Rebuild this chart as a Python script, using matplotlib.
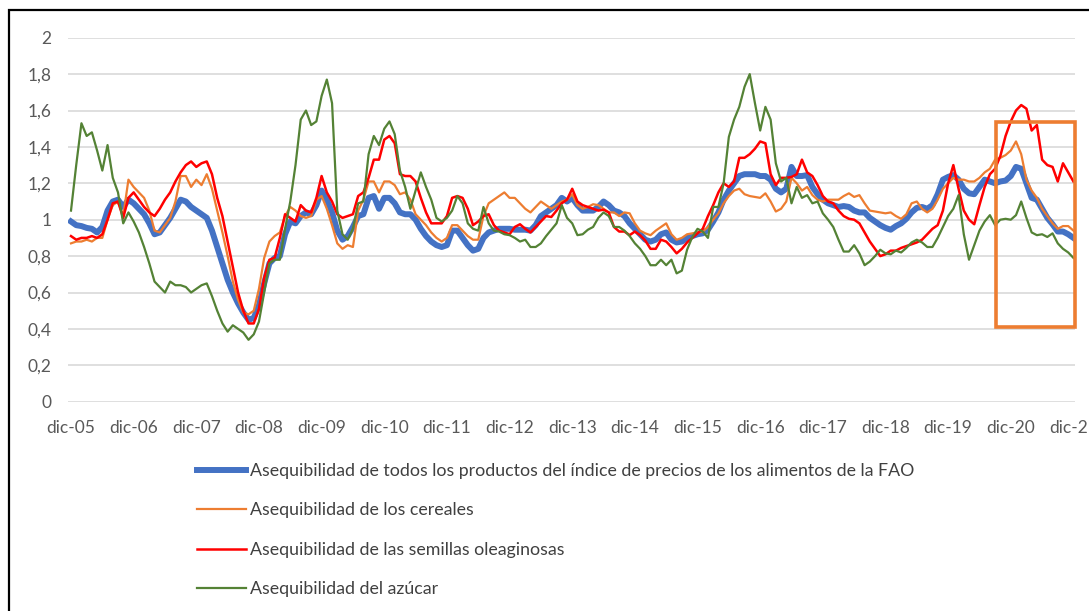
import matplotlib
matplotlib.use("Agg")
import matplotlib.pyplot as plt
from matplotlib.patches import Rectangle
import numpy as np

# ---------------- data (monthly, dic-05 .. dic-21) ----------------
tick_labels = ["dic-05", "dic-06", "dic-07", "dic-08", "dic-09", "dic-10", "dic-11",
               "dic-12", "dic-13", "dic-14", "dic-15", "dic-16", "dic-17", "dic-18",
               "dic-19", "dic-20", "dic-21"]

series_names = [
    "Asequibilidad de todos los productos del índice de precios de los alimentos de la FAO",
    "Asequibilidad de los cereales",
    "Asequibilidad de las semillas oleaginosas",
    "Asequibilidad del azúcar",
]

todos = [
    0.99, 0.97, 0.965, 0.955, 0.95, 0.93, 0.96, 1.05, 1.10, 1.11, 1.07, 1.11,
    1.09, 1.06, 1.03, 0.98, 0.92, 0.93, 0.97, 1.01, 1.06, 1.11, 1.10, 1.07,
    1.05, 1.03, 1.01, 0.94, 0.85, 0.76, 0.67, 0.60, 0.54, 0.49, 0.45, 0.46,
    0.53, 0.65, 0.76, 0.79, 0.80, 0.92, 0.99, 0.98, 1.02, 1.04, 1.03, 1.08,
    1.16, 1.11, 1.04, 0.94, 0.89, 0.91, 0.96, 1.02, 1.03, 1.12, 1.13, 1.06,
    1.12, 1.12, 1.09, 1.04, 1.03, 1.03, 1.00, 0.95, 0.91, 0.88, 0.86, 0.85,
    0.86, 0.94, 0.94, 0.90, 0.86, 0.83, 0.84, 0.90, 0.93, 0.94, 0.95, 0.95,
    0.95, 0.945, 0.945, 0.945, 0.94, 0.97, 1.02, 1.04, 1.06, 1.08, 1.12, 1.10,
    1.12, 1.08, 1.05, 1.05, 1.05, 1.07, 1.10, 1.08, 1.05, 1.04, 1.02, 0.98,
    0.95, 0.92, 0.89, 0.88, 0.89, 0.92, 0.93, 0.89, 0.875, 0.88, 0.90, 0.91,
    0.92, 0.925, 0.945, 0.99, 1.04, 1.11, 1.16, 1.20, 1.24, 1.25, 1.25, 1.25,
    1.24, 1.24, 1.22, 1.17, 1.15, 1.17, 1.29, 1.24, 1.24, 1.245, 1.18, 1.14,
    1.11, 1.09, 1.08, 1.07, 1.075, 1.07, 1.05, 1.04, 1.04, 1.01, 0.99, 0.97,
    0.955, 0.945, 0.965, 0.98, 1.005, 1.04, 1.065, 1.07, 1.06, 1.08, 1.14, 1.22,
    1.235, 1.245, 1.22, 1.17, 1.145, 1.14, 1.18, 1.22, 1.21, 1.20, 1.21, 1.215,
    1.24, 1.29, 1.28, 1.20, 1.12, 1.11, 1.06, 1.01, 0.975, 0.935, 0.935, 0.92,
    0.90,
]

cereales = [
    0.87, 0.88, 0.88, 0.89, 0.88, 0.90, 0.90, 1.00, 1.08, 1.10, 1.02, 1.22,
    1.18, 1.15, 1.12, 1.05, 0.94, 0.93, 0.97, 1.01, 1.10, 1.24, 1.24, 1.18,
    1.22, 1.19, 1.25, 1.17, 1.05, 0.93, 0.80, 0.66, 0.56, 0.49, 0.48, 0.50,
    0.62, 0.79, 0.88, 0.91, 0.93, 1.02, 1.07, 1.05, 1.02, 1.01, 1.02, 1.11,
    1.13, 1.06, 0.97, 0.87, 0.84, 0.86, 0.85, 1.05, 1.11, 1.21, 1.21, 1.15,
    1.21, 1.21, 1.19, 1.14, 1.15, 1.11, 1.03, 1.00, 0.97, 0.93, 0.90, 0.88,
    0.90, 0.97, 0.97, 0.94, 0.91, 0.89, 0.89, 1.02, 1.09, 1.11, 1.13, 1.15,
    1.12, 1.12, 1.09, 1.06, 1.04, 1.07, 1.10, 1.08, 1.06, 1.08, 1.10, 1.11,
    1.14, 1.08, 1.06, 1.07, 1.085, 1.08, 1.06, 1.04, 1.04, 1.02, 1.04, 1.035,
    0.98, 0.94, 0.925, 0.915, 0.94, 0.96, 0.98, 0.92, 0.89, 0.90, 0.92, 0.925,
    0.93, 0.935, 0.96, 1.00, 1.035, 1.09, 1.13, 1.16, 1.17, 1.14, 1.13, 1.125,
    1.12, 1.145, 1.10, 1.045, 1.06, 1.10, 1.23, 1.20, 1.16, 1.18, 1.135, 1.11,
    1.10, 1.11, 1.11, 1.11, 1.13, 1.145, 1.125, 1.135, 1.09, 1.05, 1.045, 1.04,
    1.035, 1.04, 1.02, 1.005, 1.03, 1.09, 1.10, 1.06, 1.04, 1.06, 1.11, 1.17,
    1.20, 1.23, 1.22, 1.22, 1.21, 1.21, 1.23, 1.26, 1.28, 1.33, 1.34, 1.355,
    1.38, 1.43, 1.36, 1.22, 1.16, 1.12, 1.06, 1.02, 0.98, 0.95, 0.965, 0.965,
    0.94,
]

oleaginosas = [
    0.91, 0.89, 0.90, 0.90, 0.91, 0.90, 0.92, 1.00, 1.09, 1.10, 1.01, 1.12,
    1.15, 1.11, 1.07, 1.04, 1.02, 1.06, 1.11, 1.15, 1.21, 1.26, 1.30, 1.32,
    1.29, 1.31, 1.32, 1.25, 1.12, 1.02, 0.88, 0.74, 0.60, 0.50, 0.43, 0.43,
    0.51, 0.68, 0.78, 0.79, 0.90, 1.03, 1.01, 0.99, 1.08, 1.05, 1.04, 1.12,
    1.24, 1.15, 1.10, 1.03, 1.01, 1.02, 1.03, 1.13, 1.15, 1.23, 1.33, 1.33,
    1.44, 1.46, 1.42, 1.25, 1.24, 1.24, 1.21, 1.12, 1.04, 0.98, 0.98, 0.98,
    1.02, 1.12, 1.13, 1.12, 1.06, 0.97, 0.99, 1.02, 1.03, 0.97, 0.94, 0.93,
    0.92, 0.96, 0.975, 0.95, 0.93, 0.96, 0.99, 1.02, 1.015, 1.05, 1.09, 1.11,
    1.17, 1.10, 1.08, 1.07, 1.06, 1.05, 1.055, 1.04, 0.96, 0.935, 0.935, 0.915,
    0.935, 0.915, 0.885, 0.84, 0.84, 0.89, 0.88, 0.85, 0.815, 0.84, 0.875, 0.90,
    0.925, 0.95, 1.02, 1.08, 1.15, 1.20, 1.18, 1.21, 1.34, 1.34, 1.36, 1.39,
    1.43, 1.42, 1.25, 1.19, 1.23, 1.23, 1.235, 1.25, 1.33, 1.26, 1.24, 1.19,
    1.13, 1.10, 1.09, 1.05, 1.02, 1.005, 1.00, 0.98, 0.93, 0.88, 0.84, 0.80,
    0.81, 0.83, 0.83, 0.845, 0.855, 0.865, 0.875, 0.89, 0.92, 0.95, 0.97, 1.05,
    1.20, 1.30, 1.17, 1.05, 1.00, 0.975, 1.08, 1.18, 1.25, 1.28, 1.35, 1.46,
    1.54, 1.60, 1.63, 1.61, 1.49, 1.52, 1.33, 1.30, 1.29, 1.21, 1.31, 1.26,
    1.21,
]

azucar = [
    1.05, 1.30, 1.53, 1.46, 1.48, 1.38, 1.27, 1.41, 1.23, 1.15, 0.98, 1.04,
    0.99, 0.93, 0.85, 0.76, 0.66, 0.63, 0.60, 0.66, 0.64, 0.64, 0.63, 0.60,
    0.62, 0.64, 0.65, 0.58, 0.50, 0.43, 0.385, 0.42, 0.40, 0.38, 0.34, 0.37,
    0.44, 0.60, 0.76, 0.78, 0.78, 0.95, 1.10, 1.30, 1.55, 1.60, 1.52, 1.54,
    1.68, 1.77, 1.64, 1.05, 0.92, 0.89, 0.95, 1.09, 1.10, 1.36, 1.46, 1.41,
    1.50, 1.54, 1.47, 1.27, 1.18, 1.06, 1.16, 1.26, 1.18, 1.11, 1.01, 0.99,
    1.01, 1.05, 1.13, 1.09, 0.98, 0.95, 0.94, 1.07, 0.98, 0.94, 0.935, 0.92,
    0.915, 0.90, 0.88, 0.89, 0.85, 0.85, 0.87, 0.91, 0.945, 0.98, 1.08, 1.01,
    0.98, 0.915, 0.92, 0.945, 0.96, 1.01, 1.04, 1.02, 0.96, 0.96, 0.94, 0.91,
    0.87, 0.84, 0.80, 0.75, 0.75, 0.78, 0.75, 0.78, 0.705, 0.72, 0.835, 0.905,
    0.95, 0.935, 0.90, 1.07, 1.07, 1.20, 1.455, 1.55, 1.62, 1.73, 1.80, 1.64,
    1.49, 1.62, 1.55, 1.31, 1.21, 1.23, 1.09, 1.18, 1.12, 1.135, 1.09, 1.10,
    1.035, 1.00, 0.96, 0.89, 0.825, 0.825, 0.86, 0.815, 0.75, 0.77, 0.80, 0.835,
    0.815, 0.81, 0.83, 0.82, 0.845, 0.875, 0.89, 0.875, 0.85, 0.85, 0.90, 0.96,
    1.02, 1.06, 1.135, 0.92, 0.78, 0.86, 0.94, 0.99, 1.025, 0.97, 1.00, 1.005,
    1.00, 1.025, 1.10, 1.01, 0.93, 0.915, 0.92, 0.905, 0.925, 0.87, 0.84, 0.82,
    0.79,
]

# highlighted period (orange frame): from ~sep-20 to dic-21
box_x0, box_x1 = 177.2, 192.3
box_y0, box_y1 = 0.41, 1.537

# ---------------- style ----------------
plt.rcParams['font.family'] = ['Lato', 'DejaVu Sans']
W, H = 1089, 611
fig = plt.figure(figsize=(W / 100, H / 100), dpi=100)
fig.patch.set_facecolor('white')

ax = fig.add_axes([68 / W, 1 - 401.7 / H, (1075 - 68) / W, (401.7 - 37.7) / H])

months = np.arange(len(todos))
colors = ['#4472C4', '#ED7D31', '#FF0000', '#548235']
widths = [4.3, 1.6, 1.8, 1.6]
for data, c, lw, name in zip([todos, cereales, oleaginosas, azucar], colors, widths, series_names):
    ax.plot(months, data, color=c, lw=lw, label=name, solid_joinstyle='round')

ax.set_xlim(-0.575, 192.3)
ax.set_ylim(0, 2)
yt = np.arange(0, 2.01, 0.2).round(1)
ax.set_yticks(yt)
ax.set_yticklabels([("%g" % v).replace('.', ',') for v in yt])
ax.set_xticks(np.arange(0, 193, 12))
ax.set_xticklabels(tick_labels)
ax.grid(axis='y', color='#d9d9d9', lw=1.2)
ax.set_axisbelow(True)
for s in ax.spines.values():
    s.set_visible(False)
ax.tick_params(axis='both', length=0, colors='#595959', labelsize=12.5)
ax.tick_params(axis='y', pad=12)
ax.tick_params(axis='x', pad=13)

# highlight rectangle
ax.add_patch(Rectangle((box_x0, box_y0), box_x1 - box_x0, box_y1 - box_y0,
                       fill=False, edgecolor='#ED7D31', lw=2.6, clip_on=False, zorder=5))

# legend
leg = ax.legend(loc='upper left', bbox_to_anchor=(197 / W, 1 - 463 / H),
                bbox_transform=fig.transFigure, frameon=False, ncol=1,
                fontsize=12.8, handlelength=2.75, handletextpad=0.25,
                labelspacing=1.32, borderpad=0, borderaxespad=0)
for t in leg.get_texts():
    t.set_color('#404040')

# outer black frame (cropped screenshot)
fig.patches.append(Rectangle((9 / W, -0.05), 1.2, (1 - 10.5 / H) + 0.05,
                             transform=fig.transFigure, fill=False,
                             edgecolor='black', lw=1.6, figure=fig))

fig.savefig('out.png', dpi=100, facecolor='white')
